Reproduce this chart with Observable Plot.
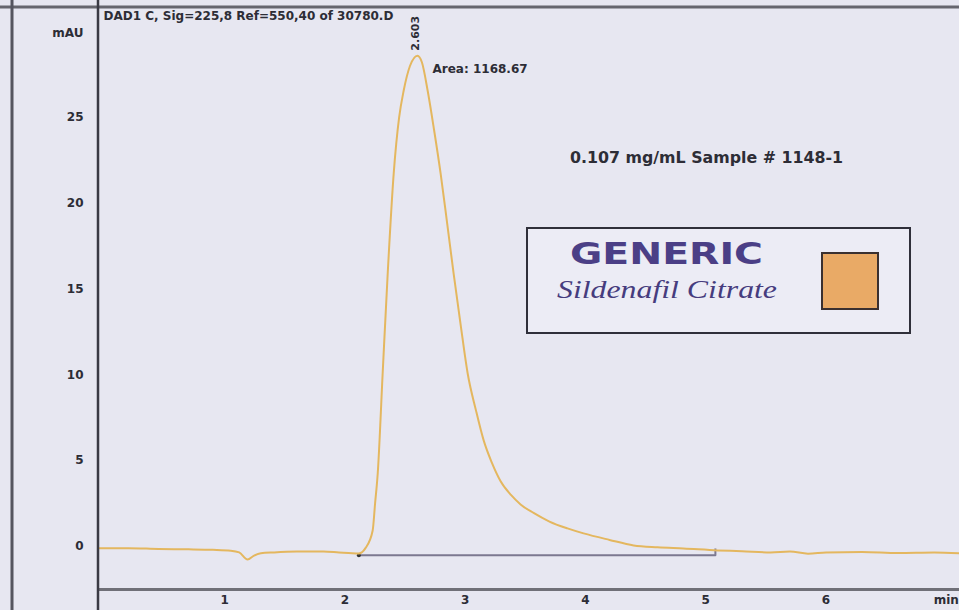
<!DOCTYPE html>
<html>
<head>
<meta charset="utf-8">
<script src="https://cdn.jsdelivr.net/npm/d3@7"></script>
<script src="https://cdn.jsdelivr.net/npm/@observablehq/plot@0.6"></script>
<style>
  html, body { margin: 0; padding: 0; background: #e7e7f1; }
  #wrap { position: relative; width: 959px; height: 610px; overflow: hidden; }
</style>
</head>
<body>
<div id="wrap"></div>
<script>
// ---- data ----
const time = [-0.05, 0.2, 0.45, 0.7, 0.9, 1.05, 1.12, 1.19, 1.24, 1.30, 1.41, 1.6, 1.82, 1.95, 2.06, 2.115,
  2.17, 2.23, 2.25, 2.272, 2.313, 2.355, 2.405, 2.45, 2.488, 2.54, 2.603, 2.64, 2.687, 2.74, 2.795, 2.85,
  2.903, 2.96, 3.02, 3.09, 3.153, 3.22, 3.294, 3.38, 3.46, 3.568, 3.70, 3.85, 3.984, 4.2, 4.40, 4.6,
  4.815, 5.10, 5.3, 5.54, 5.7, 5.85, 6.0, 6.3, 6.6, 6.9, 7.11];
const mAU = [-0.1, -0.1, -0.15, -0.17, -0.2, -0.25, -0.35, -0.76, -0.55, -0.4, -0.35, -0.3, -0.29, -0.35, -0.4, -0.41,
  -0.1, 0.93, 2.5, 4.25, 10.08, 15.91, 21.74, 25.0, 26.57, 28.0, 28.6, 28.2, 26.57, 24.3, 21.74, 18.8,
  15.91, 13.0, 10.08, 7.9, 6.18, 4.9, 3.8, 3.0, 2.45, 1.95, 1.45, 1.05, 0.76, 0.38, 0.06, -0.05,
  -0.12, -0.23, -0.28, -0.35, -0.3, -0.42, -0.35, -0.32, -0.38, -0.35, -0.4];

const peakTime = [2.603];
const peakHeight = [28.6];
const peakLabel = ["2.603"];
const areaLabel = ["Area: 1168.67"];

const integStart = [2.115, -0.52];
const integEnd = [5.08, -0.52];
const integTickTop = [-0.15];

const yTicks = [0, 5, 10, 15, 20, 25];
const xTicks = [1, 2, 3, 4, 5, 6, 7];
const xTickLabels = ["1", "2", "3", "4", "5", "6", "min"];

const header = ["DAD1 C, Sig=225,8 Ref=550,40 of 30780.D"];
const yUnit = ["mAU"];
const sampleText = "0.107 mg/mL Sample # 1148-1";
const brandText = "GENERIC";
const drugText = "Sildenafil Citrate";

// ---- build tables ----
const trace = time.map((t, i) => ({t, v: mAU[i]}));
const peaks = peakTime.map((t, i) => ({t, v: peakHeight[i], label: peakLabel[i], area: areaLabel[i]}));
const integLine = [{t: integStart[0], v: integStart[1]}, {t: integEnd[0], v: integEnd[1]}];
const integTick = [{t: integEnd[0], v1: integEnd[1], v2: integTickTop[0]}];

const ink = "#2d2d36";
const plot = Plot.plot({
  width: 959,
  height: 610,
  marginLeft: 98,
  marginRight: 0,
  marginTop: 8,
  marginBottom: 21,
  style: {background: "transparent", fontFamily: "DejaVu Sans", fontWeight: "bold", fontSize: "12px", color: ink},
  x: {domain: [-0.05, 7.11]},
  y: {domain: [-2.51, 31.35]},
  marks: [
    Plot.axisY(yTicks, {tickSize: 0, tickPadding: 15, label: null, fontWeight: "bold", fontSize: 12}),
    Plot.axisX(xTicks, {tickSize: 0, tickPadding: 6, label: null, fontWeight: "bold", fontSize: 12,
      tickFormat: d => xTickLabels[xTicks.indexOf(d)]}),
    Plot.frame({anchor: "bottom", stroke: "#707078", strokeWidth: 3}),
    Plot.line(integLine, {x: "t", y: "v", stroke: "#7c7890", strokeWidth: 2}),
    Plot.ruleX(integTick, {x: "t", y1: "v1", y2: "v2", stroke: "#7c7890", strokeWidth: 2}),
    Plot.dot([integStart], {x: d => d[0], y: d => d[1], r: 2, fill: "#333"}),
    Plot.line(trace, {x: "t", y: "v", stroke: "#e4b75f", strokeWidth: 2, curve: "monotone-x"}),
    Plot.text(peaks, {x: "t", y: "v", text: "label", rotate: -90, textAnchor: "start", lineAnchor: "middle",
      dy: -5, dx: -2, fontSize: 11, fontWeight: "bold", fill: ink}),
    Plot.text(peaks, {x: "t", y: "v", text: "area", textAnchor: "start", lineAnchor: "middle",
      dx: 15, dy: 13, fontSize: 12, fontWeight: "bold", fill: ink}),
    Plot.text(header, {frameAnchor: "top-left", dx: 5, dy: 3, textAnchor: "start", lineAnchor: "top",
      fontSize: 12, fontWeight: "bold", fill: ink}),
    Plot.text(yUnit, {frameAnchor: "top-left", dx: -15, dy: 25, textAnchor: "end", lineAnchor: "middle",
      fontSize: 12, fontWeight: "bold", fill: ink})
  ]
});

document.getElementById("wrap").appendChild(plot);

// ---- page decorations & annotation box ----
const svg = d3.select(plot);
const deco = svg.append("g").attr("text-anchor", "start");
deco.append("line").attr("x1", 0).attr("x2", 959).attr("y1", 7).attr("y2", 7)
  .attr("stroke", "#66666e").attr("stroke-width", 3);
deco.append("line").attr("x1", 98).attr("x2", 98).attr("y1", 0).attr("y2", 610)
  .attr("stroke", "#3a3a44").attr("stroke-width", 2.5);
deco.append("line").attr("x1", 12).attr("x2", 12).attr("y1", 0).attr("y2", 610)
  .attr("stroke", "#55555f").attr("stroke-width", 3);

deco.append("text").text(sampleText)
  .attr("x", 570).attr("y", 163).attr("text-anchor", "start")
  .attr("font-family", "DejaVu Sans").attr("font-weight", "bold").attr("font-size", 16)
  .attr("fill", ink).attr("textLength", 273).attr("lengthAdjust", "spacingAndGlyphs");

const box = svg.append("g").attr("text-anchor", "start");
box.append("rect").attr("x", 527).attr("y", 228).attr("width", 383).attr("height", 105)
  .attr("fill", "#ececf5").attr("stroke", "#2f2f3a").attr("stroke-width", 2);
box.append("text").text(brandText)
  .attr("x", 570).attr("y", 264).attr("text-anchor", "start")
  .attr("font-family", "DejaVu Sans").attr("font-weight", "bold").attr("font-size", 31)
  .attr("fill", "#4b3f86").attr("textLength", 193).attr("lengthAdjust", "spacingAndGlyphs");
box.append("text").text(drugText)
  .attr("x", 557).attr("y", 298).attr("text-anchor", "start")
  .attr("font-family", "Liberation Serif").attr("font-style", "italic").attr("font-weight", "normal").attr("font-size", 26)
  .attr("fill", "#463c7e").attr("textLength", 220).attr("lengthAdjust", "spacingAndGlyphs");
box.append("rect").attr("x", 822).attr("y", 253).attr("width", 56).attr("height", 56)
  .attr("fill", "#e9aa66").attr("stroke", "#3a3030").attr("stroke-width", 2);
</script>
</body>
</html>
